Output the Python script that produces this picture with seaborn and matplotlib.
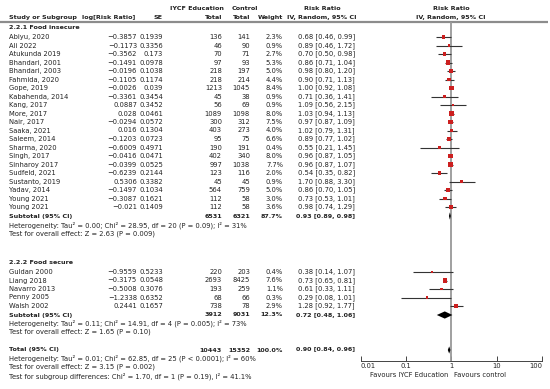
import numpy as np
import pandas as pd
import matplotlib
matplotlib.use("Agg")
import matplotlib.pyplot as plt
import seaborn as sns

# ---------------- data ----------------
studies1 = ["Abiyu, 2020", "Ali 2022", "Atukunda 2019", "Bhandari, 2001", "Bhandari, 2003",
            "Fahmida, 2020", "Gope, 2019", "Kabahenda, 2014", "Kang, 2017", "More, 2017",
            "Nair, 2017", "Saaka, 2021", "Saleem, 2014", "Sharma, 2020", "Singh, 2017",
            "Sinharoy 2017", "Sudfeld, 2021", "Sustanto, 2019", "Yadav, 2014", "Young 2021",
            "Young 2021"]
logrr1 = [-0.3857, -0.1173, -0.3562, -0.1491, -0.0196, -0.1105, -0.0026, -0.3361, 0.0887, 0.028,
          -0.0294, 0.016, -0.1203, -0.6009, -0.0416, -0.0399, -0.6239, 0.5306, -0.1497, -0.3087,
          -0.021]
se1 = [0.1939, 0.3356, 0.173, 0.0978, 0.1038, 0.1174, 0.039, 0.3454, 0.3452, 0.0461,
       0.0572, 0.1304, 0.0723, 0.4971, 0.0471, 0.0525, 0.2144, 0.3382, 0.1034, 0.1621, 0.1409]
exp1 = [136, 46, 70, 97, 218, 218, 1213, 45, 56, 1089, 300, 403, 95, 190, 402, 997, 123, 45, 564, 112, 112]
ctl1 = [141, 90, 71, 93, 197, 214, 1045, 38, 69, 1098, 312, 273, 75, 191, 340, 1038, 116, 45, 759, 58, 58]
w1 = [2.3, 0.9, 2.7, 5.3, 5.0, 4.4, 8.4, 0.9, 0.9, 8.0, 7.5, 4.0, 6.6, 0.4, 8.0, 7.7, 2.0, 0.9, 5.0, 3.0, 3.6]
rr1 = [0.68, 0.89, 0.70, 0.86, 0.98, 0.90, 1.00, 0.71, 1.09, 1.03, 0.97, 1.02, 0.89, 0.55, 0.96,
       0.96, 0.54, 1.70, 0.86, 0.73, 0.98]
lo1 = [0.46, 0.46, 0.50, 0.71, 0.80, 0.71, 0.92, 0.36, 0.56, 0.94, 0.87, 0.79, 0.77, 0.21, 0.87,
       0.87, 0.35, 0.88, 0.70, 0.53, 0.74]
hi1 = [0.99, 1.72, 0.98, 1.04, 1.20, 1.13, 1.08, 1.41, 2.15, 1.13, 1.09, 1.31, 1.02, 1.45, 1.05,
       1.07, 0.82, 3.30, 1.05, 1.01, 1.29]

studies2 = ["Guldan 2000", "Liang 2018", "Navarro 2013", "Penny 2005", "Walsh 2002"]
logrr2 = [-0.9559, -0.3175, -0.5008, -1.2338, 0.2441]
se2 = [0.5233, 0.0548, 0.3076, 0.6352, 0.1657]
exp2 = [220, 2693, 193, 68, 738]
ctl2 = [203, 8425, 259, 66, 78]
w2 = [0.4, 7.6, 1.1, 0.3, 2.9]
rr2 = [0.38, 0.73, 0.61, 0.29, 1.28]
lo2 = [0.14, 0.65, 0.33, 0.08, 0.92]
hi2 = [1.07, 0.81, 1.11, 1.01, 1.77]

# subtotals / total: exp total, control total, weight, rr, lo, hi
sub1 = (6531, 6321, 87.7, 0.93, 0.89, 0.98)
sub2 = (3912, 9031, 12.3, 0.72, 0.48, 1.06)
tot = (10443, 15352, 100.0, 0.90, 0.84, 0.96)

het1 = "Heterogeneity: Tau² = 0.00; Chi² = 28.95, df = 20 (P = 0.09); I² = 31%"
eff1 = "Test for overall effect: Z = 2.63 (P = 0.009)"
het2 = "Heterogeneity: Tau² = 0.11; Chi² = 14.91, df = 4 (P = 0.005); I² = 73%"
eff2 = "Test for overall effect: Z = 1.65 (P = 0.10)"
hetT = "Heterogeneity: Tau² = 0.01; Chi² = 62.85, df = 25 (P < 0.0001); I² = 60%"
effT = "Test for overall effect: Z = 3.15 (P = 0.002)"
subd = "Test for subgroup differences: Chi² = 1.70, df = 1 (P = 0.19), I² = 41.1%"

xticks = [0.01, 0.1, 1, 10, 100]
xtick_labels = ["0.01", "0.1", "1", "10", "100"]

# ---------------- layout ----------------
W, H = 550, 389
sns.set_theme(style="white")
plt.rcParams['font.family'] = ['DejaVu Sans']
FS = 4.9
FSB = 4.6
TC = "#222222"

fig = plt.figure(figsize=(W / 100, H / 100), dpi=100)
ax = fig.add_axes([0, 0, 1, 1])
ax.set_xlim(0, W)
ax.set_ylim(H, 0)
ax.axis("off")

AX_TOP, AX_BOT = 22, 361
X0, X1 = 360.5, 542
axf = fig.add_axes([X0 / W, (H - AX_BOT) / H, (X1 - X0) / W, (AX_BOT - AX_TOP) / H])
axf.set_xscale("log")
axf.set_xlim(0.01, 100)
axf.set_ylim(AX_BOT, AX_TOP)
axf.patch.set_alpha(0)
for s in ["top", "left", "right"]:
    axf.spines[s].set_visible(False)
axf.spines["bottom"].set_color("#444444")
axf.spines["bottom"].set_linewidth(0.7)
axf.set_yticks([])
axf.set_xticks(xticks)
axf.set_xticklabels(xtick_labels)
axf.xaxis.set_minor_locator(matplotlib.ticker.NullLocator())
axf.tick_params(axis="x", direction="in", length=3.5, width=0.7, color="#444444",
                labelsize=FS, labelcolor=TC, pad=1.6, bottom=True)
tl = axf.get_xticklabels()
tl[0].set_ha("left")
tl[-1].set_ha("right")
axf.axvline(1, color="#999999", lw=1.3, zorder=1)

def fmt_num(v):
    return str(v).replace("-", "\u2212")

def txt(x, y, s, ha="left", bold=False, size=None):
    if size is None:
        size = FSB if bold else FS
    ax.text(x, y, s, ha=ha, va="center", fontsize=size, color=TC,
            fontweight="bold" if bold else "normal")

# headers
txt(197, 8, "IYCF Education", ha="center", bold=True)
txt(232, 8, "Control", bold=True)
txt(9, 17, "Study or Subgroup", bold=True)
txt(135, 17, "log[Risk Ratio]", ha="right", bold=True)
txt(163, 17, "SE", ha="right", bold=True)
txt(222, 17, "Total", ha="right", bold=True)
txt(250, 17, "Total", ha="right", bold=True)
txt(283, 17, "Weight", ha="right", bold=True)
txt(322, 8, "Risk Ratio", ha="center", bold=True)
txt(322, 17, "IV, Random, 95% CI", ha="center", bold=True)
txt(451, 8, "Risk Ratio", ha="center", bold=True)
txt(451, 17, "IV, Random, 95% CI", ha="center", bold=True)
ax.plot([0, 548], [22, 22], color="#8c8c8c", lw=1.6, solid_capstyle="butt")

def study_rows(names, lrr, se, ex, ct, w, rr, lo, hi, y0):
    ys = [y0 + 8.5 * i for i in range(len(names))]
    for i, y in enumerate(ys):
        txt(9, y, names[i])
        txt(137, y, fmt_num(lrr[i]), ha="right")
        txt(163, y, fmt_num(se[i]), ha="right")
        txt(222, y, str(ex[i]), ha="right")
        txt(250, y, str(ct[i]), ha="right")
        txt(283, y, f"{w[i]:.1f}%", ha="right")
        txt(355, y, f"{rr[i]:.2f} [{lo[i]:.2f}, {hi[i]:.2f}]", ha="right")
    axf.hlines(ys, lo, hi, color="#333333", lw=0.8, zorder=2)
    df = pd.DataFrame({"rr": rr, "y": ys, "w": w})
    sns.scatterplot(data=df, x="rr", y="y", size="w", sizes=(3, 12), size_norm=(0.3, 8.4),
                    marker="s", color="#cc1f1f", edgecolor="none", legend=False, ax=axf, zorder=3)
    return ys

def summary_row(y, label, vals):
    e, c, w, rr, lo, hi = vals
    txt(9, y, label, bold=True)
    txt(222, y, str(e), ha="right", bold=True)
    txt(250, y, str(c), ha="right", bold=True)
    txt(283, y, f"{w:.1f}%", ha="right", bold=True)
    txt(355, y, f"{rr:.2f} [{lo:.2f}, {hi:.2f}]", ha="right", bold=True)
    h = 3.6
    axf.fill([lo, rr, hi, rr], [y, y - h, y, y + h], color="black", lw=0, zorder=4)

txt(9, 27.5, "2.2.1 Food insecure", bold=True)
study_rows(studies1, logrr1, se1, exp1, ctl1, w1, rr1, lo1, hi1, 37)
summary_row(216, "Subtotal (95% CI)", sub1)
txt(9, 225, het1)
txt(9, 234, eff1)

txt(9, 262, "2.2.2 Food secure", bold=True)
study_rows(studies2, logrr2, se2, exp2, ctl2, w2, rr2, lo2, hi2, 272)
summary_row(315, "Subtotal (95% CI)", sub2)
txt(9, 323.5, het2)
txt(9, 332, eff2)

summary_row(350, "Total (95% CI)", tot)
txt(9, 358.5, hetT)
txt(9, 367, effT)
txt(9, 376, subd)

txt(448, 375, "Favours IYCF Education", ha="right")
txt(454, 375, "Favours control", ha="left")

axf.set_xlabel("")
axf.set_ylabel("")
fig.savefig("out.png", dpi=100)
